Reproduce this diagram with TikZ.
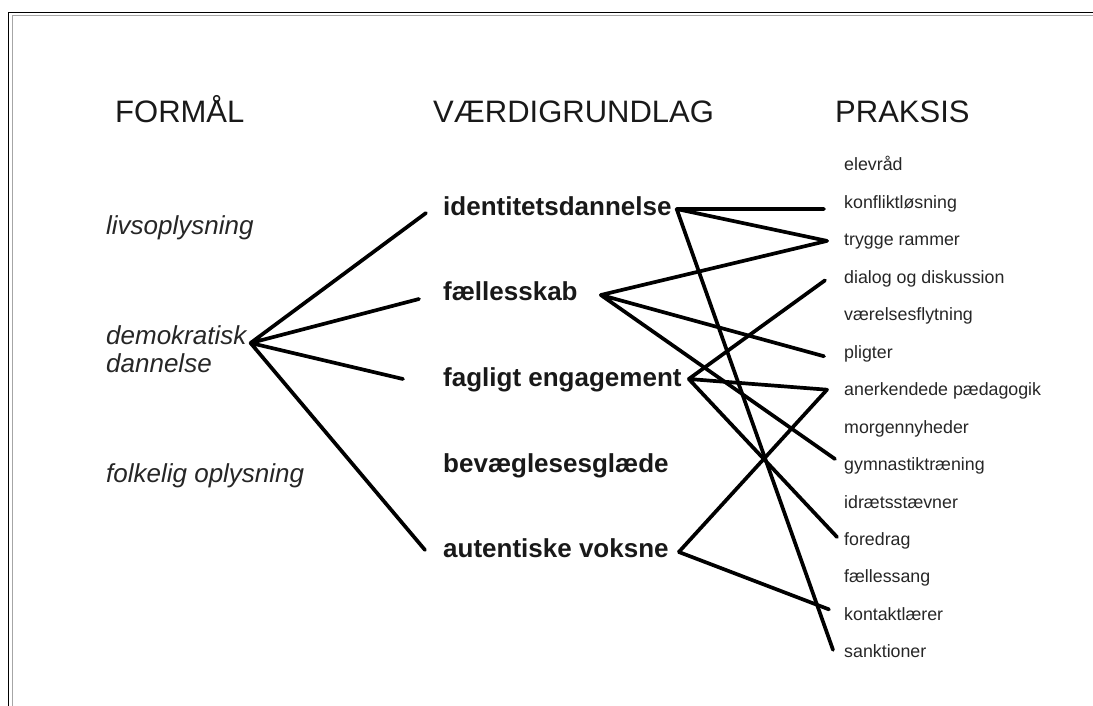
\documentclass[tikz,border=0pt]{standalone}
\usepackage{fontspec}
\setmainfont{Liberation Sans}
\tikzset{
    heading/.style = {anchor=base west, inner sep=0pt, font=\fontsize{31}{31}\selectfont, text=black!90},
    aim/.style = {anchor=base west, inner sep=0pt, font=\fontsize{26}{26}\selectfont\itshape, text=black!85},
    value/.style = {anchor=base west, inner sep=0pt, font=\fontsize{26}{26}\selectfont\bfseries, text=black!90},
    practice/.style = {anchor=base west, inner sep=0pt, font=\fontsize{17.8}{18}\selectfont, text=black!85},
    link/.style = {line width=3.7pt}
}

\begin{document}
\begin{tikzpicture}[x=1pt, y=-1pt, line cap=round, line join=round]
	\useasboundingbox (0,0) rectangle (1093,706);
	% frame
	\draw[line width=1.3pt] (8.5,706) -- (8.5,12.5) -- (1093,12.5);
	\draw[black!35, line width=1pt] (12.5,706) -- (12.5,16) -- (1093,16);
	% headings
	\node[heading] (formaal) at (115,123) {FORMÅL};
	\node[heading] (vaerdi) at (433,123) {VÆRDIGRUNDLAG};
	\node[heading] (praksis) at (835,123) {PRAKSIS};
	% formaal
	\node[aim] (livs) at (106,234) {livsoplysning};
	\node[aim] (demo) at (106,344) {demokratisk};
	\node[aim] (dann) at (106,372) {dannelse};
	\node[aim] (folk) at (106,482) {folkelig oplysning};
	% vaerdigrundlag
	\node[value] (ident) at (443,215) {identitetsdannelse};
	\node[value] (faelles) at (443,300) {fællesskab};
	\node[value] (faglig) at (443,386) {fagligt engagement};
	\node[value] (bevaeg) at (443,472) {bevæglesesglæde};
	\node[value] (autent) at (443,557) {autentiske voksne};
	% praksis
	\foreach \name/\txt [count=\i from 0] in {elev/elevråd, konflikt/konfliktløsning,
	    trygge/trygge rammer, dialog/dialog og diskussion, vaerelse/værelsesflytning,
	    pligter/pligter, anerk/anerkendede pædagogik, morgen/morgennyheder,
	    gymn/gymnastiktræning, idraet/idrætsstævner, foredrag/foredrag,
	    faellessang/fællessang, kontakt/kontaktlærer, sankt/sanktioner}
	    \node[practice] (\name) at (844,{171+37.45*\i}) {\txt};
	% links
	\draw[link] ([shift={(4,-1)}]demo.base east) -- ([shift={(-17,-2)}]ident.base west)
	    ([shift={(4,-1)}]demo.base east) -- ([shift={(-24,-1)}]faelles.base west)
	    ([shift={(4,-1)}]demo.base east) -- ([shift={(-40,-7)}]faglig.base west)
	    ([shift={(4,-1)}]demo.base east) -- ([shift={(-18,-7)}]autent.base west);
	\draw[link] ([shift={(5,-6)}]ident.base east) -- ([shift={(-20,0.5)}]konflikt.base west)
	    ([shift={(5,-6)}]ident.base east) -- ([shift={(-17,-5)}]trygge.base west)
	    ([shift={(5,-6)}]ident.base east) -- ([shift={(-11,-8)}]sankt.base west);
	\draw[link] ([shift={(23,-5)}]faelles.base east) -- ([shift={(-17,-5)}]trygge.base west)
	    ([shift={(23,-5)}]faelles.base east) -- ([shift={(-20,-2)}]pligter.base west)
	    ([shift={(23,-5)}]faelles.base east) -- ([shift={(-9,-11.6)}]gymn.base west);
	\draw[link] ([shift={(7,-7)}]faglig.base east) -- ([shift={(-19,-3)}]dialog.base west)
	    ([shift={(7,-7)}]faglig.base east) -- ([shift={(-17,-6)}]anerk.base west)
	    ([shift={(7,-7)}]faglig.base east) -- ([shift={(-7,-8.5)}]foredrag.base west);
	\draw[link] ([shift={(10,-5)}]autent.base east) -- ([shift={(-17,-6)}]anerk.base west)
	    ([shift={(10,-5)}]autent.base east) -- ([shift={(-15,-11)}]kontakt.base west);
\end{tikzpicture}
\end{document}
